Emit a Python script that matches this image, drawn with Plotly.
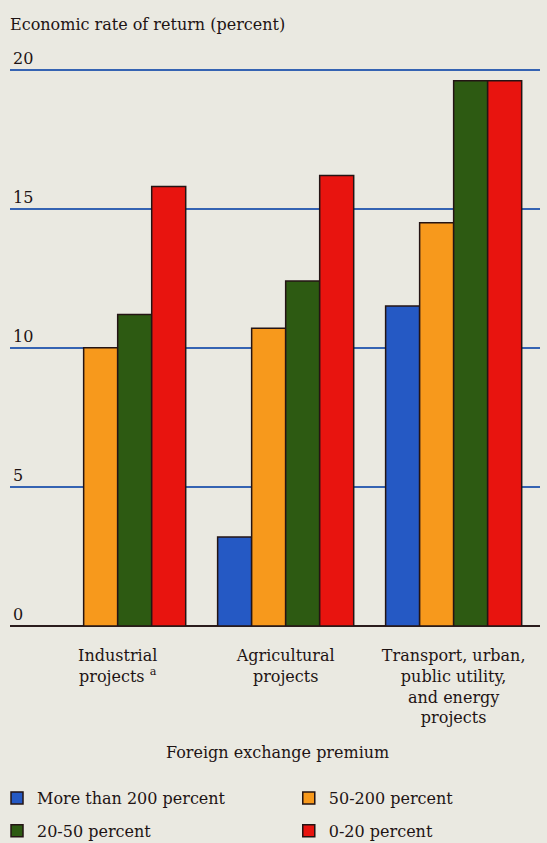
import plotly.graph_objects as go

# project groups and foreign exchange premium series
projects = [
    "Industrial<br>projects <sup>a</sup>",
    "Agricultural<br>projects",
    "Transport, urban,<br>public utility,<br>and energy<br>projects",
]
more_than_200 = [None, 3.2, 11.5]
pct_50_200 = [10.0, 10.7, 14.5]
pct_20_50 = [11.2, 12.4, 19.6]
pct_0_20 = [15.8, 16.2, 19.6]

y_ticks = [0, 5, 10, 15, 20]

FONT = "DejaVu Serif"
BG = "#eae9e1"

series = [
    ("More than 200 percent", more_than_200, "#2559c4", "legend"),
    ("50-200 percent", pct_50_200, "#f7991c", "legend2"),
    ("20-50 percent", pct_20_50, "#2d5a12", "legend"),
    ("0-20 percent", pct_0_20, "#e8140f", "legend2"),
]

fig = go.Figure()
for name, vals, col, leg in series:
    fig.add_trace(go.Bar(
        name=name, x=projects, y=vals,
        marker=dict(color=col, line=dict(color="#241414", width=1.5)),
        legend=leg, legendgroup=name,
    ))

fig.update_layout(
    width=547, height=843,
    paper_bgcolor=BG, plot_bgcolor=BG,
    margin=dict(l=10, r=7, t=53, b=217, autoexpand=False),
    barmode="group", bargap=0.19, bargroupgap=0,
    font=dict(family=FONT, size=16, color="#1e1414"),
    title=dict(text="Economic rate of return (percent)", x=10/547, xanchor="left",
               y=1 - 24/843, yanchor="middle", font=dict(family=FONT, size=16, color="#1e1414")),
    legend=dict(x=-0.0245, y=-0.2705, xanchor="left", yanchor="top", tracegroupgap=9,
                bgcolor="rgba(0,0,0,0)", font=dict(size=16)),
    legend2=dict(x=0.526, y=-0.2705, xanchor="left", yanchor="top", tracegroupgap=9,
                 bgcolor="rgba(0,0,0,0)", font=dict(size=16)),
    showlegend=True,
)

fig.update_xaxes(
    type="category", range=[-0.641, 2.514], showgrid=False, ticks="",
    showline=False, ticklabelstandoff=18, tickfont=dict(size=16), automargin=False,
)
fig.update_yaxes(
    range=[0, 20.6], tickvals=y_ticks, showgrid=True, gridcolor="#3563b2", gridwidth=2,
    zeroline=True, zerolinecolor="#2a1c1c", zerolinewidth=2,
    ticklabelposition="inside top", ticklabeloverflow="allow",
    tickfont=dict(size=16, color="#1e1414"), showline=False, automargin=False,
)

fig.add_annotation(text="Foreign exchange premium", xref="paper", yref="paper",
                   x=(277 - 10) / 530, y=-(753 - 626) / 573, showarrow=False,
                   xanchor="center", yanchor="middle", font=dict(size=16))

fig.write_html(
    "out.html",
    config={"displayModeBar": False},
    post_script="document.body.style.margin='0';document.body.style.overflow='hidden';"
                "document.body.style.background='" + BG + "';",
)
